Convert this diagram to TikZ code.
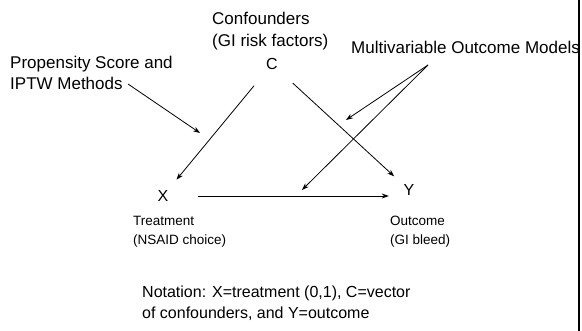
\documentclass[tikz,border=0pt]{standalone}
\usepackage{fontspec}
\setmainfont{Liberation Sans}
\usetikzlibrary{arrows.meta}
\begin{document}
\begin{tikzpicture}[x=1pt,y=-1pt,
  lbl/.style={inner sep=0pt, anchor=base west, align=left},
  big/.style={font=\fontsize{17}{21}\selectfont},
  mid/.style={font=\fontsize{16}{21}\selectfont},
  sml/.style={font=\fontsize{13.5}{19}\selectfont},
  var/.style={circle, inner sep=0pt, font=\fontsize{16}{19}\selectfont},
  arr/.style={line width=0.8pt, -{Stealth[length=7pt,width=5pt]}}]
\useasboundingbox (0,0) rectangle (582,331);
\fill[white] (0,0) rectangle (582,331);
\draw[line width=1.6pt] (579,0) -- (579,331);

% texts (anchored at baseline of last line)
\node[lbl,font=\fontsize{17}{22}\selectfont] (conf) at (212,47) {Confounders\\(GI risk factors)};
\node[lbl,big] (ps) at (10,90) {Propensity Score and\\IPTW Methods};
\node[lbl,big] (mvom) at (351,54) {Multivariable Outcome Models};
\node[lbl,sml] (treat) at (133,245) {Treatment\\(NSAID choice)};
\node[lbl,sml] (outc) at (390,245) {Outcome\\(GI bleed)};
\node[lbl,mid] (nota) at (142,319) {Notation: X=treatment (0,1), C=vector\\of confounders, and Y=outcome};

% variables
\node[var, minimum size=56pt] (C) at (272,64) {C};
\node[var, minimum size=42pt] (X) at (163,196) {X};
\node[var, minimum size=40pt] (Y) at (409,190) {Y};

% connector ends
\coordinate (psStart) at (128,84);
\coordinate (psEnd) at (200,133);
\coordinate (mvTip) at (428,65);
\coordinate (mvEndA) at (346,120);
\coordinate (mvEndB) at (302,190);

% arrows
\draw[arr] (C) -- (X);
\draw[arr] (C) -- (Y);
\draw[arr, shorten <=14pt] (X.east) -- (X.east -| Y.west);
\draw[arr] (psStart) -- (psEnd);
\draw[arr] (mvTip) -- (mvEndA);
\draw[arr] (mvTip) -- (mvEndB);
\end{tikzpicture}
\end{document}
